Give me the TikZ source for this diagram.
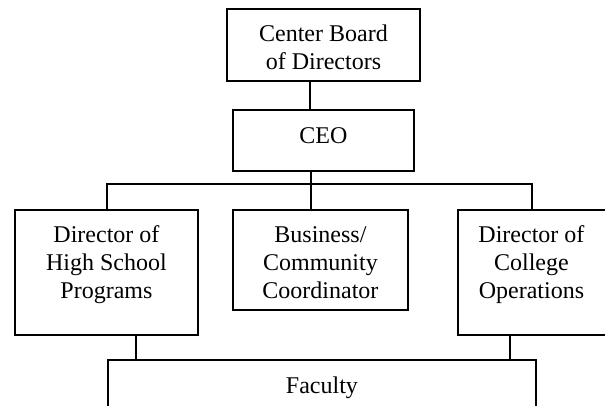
\documentclass[tikz,border=0pt]{standalone}
\usepackage{fontspec}
\setmainfont{Liberation Serif}
% fixes the height of a box's first text line
\newcommand\firststrut{\rule{0pt}{24pt}}
\begin{document}
\begin{tikzpicture}[x=1pt,y=-1pt,
  orgbox/.style={draw, line width=1.9pt, rectangle, inner sep=0pt, anchor=north west},
  orgtext/.style={anchor=north, align=center, inner sep=0pt,
    font=\fontsize{24}{28}\selectfont},
  link/.style={line width=1.9pt}]
  \useasboundingbox (0,0) rectangle (605,406);
  \clip (0,0) rectangle (605,406);

  % boxes
  \node[orgbox, minimum width=193pt, minimum height=72pt]  (board) at (226,8)   {};
  \node[orgbox, minimum width=181pt, minimum height=61pt]  (ceo)   at (232,109) {};
  \node[orgbox, minimum width=183pt, minimum height=125pt] (hs)    at (14,209)  {};
  \node[orgbox, minimum width=175pt, minimum height=100pt] (biz)   at (232,209) {};
  \node[orgbox, minimum width=149pt, minimum height=125pt] (col)   at (457,209) {};
  \node[orgbox, minimum width=428pt, minimum height=52pt]  (fac)   at (107,359) {};

  % box texts, first baseline about 33 below the top edge
  \node[orgtext] (board-t) at ([yshift=-9pt]board.north) {\firststrut Center Board\\of Directors};
  \node[orgtext] (ceo-t)   at ([yshift=-10pt]ceo.north)  {\firststrut CEO};
  \node[orgtext] (hs-t)    at ([yshift=-9pt]hs.north)    {\firststrut Director of\\High School\\Programs};
  \node[orgtext] (biz-t)   at ([yshift=-9pt]biz.north)   {\firststrut Business/\\Community\\Coordinator};
  \node[orgtext] (col-t)   at ([xshift=-1pt,yshift=-9pt]col.north) {\firststrut Director of\\College\\Operations};
  \node[orgtext] (fac-t)   at ([yshift=-10pt]fac.north)  {\firststrut Faculty};

  % connector positions
  \coordinate (top)  at (310,0);
  \coordinate (busL) at (107,184);
  \coordinate (busM) at (311,184);
  \coordinate (busR) at (532,184);
  \coordinate (fL)   at (136,0);
  \coordinate (fR)   at (510,0);

  \draw[link] (board.south -| top) -- (ceo.north -| top);
  \draw[link] (ceo.south -| busM) -- (biz.north -| busM);
  \draw[link] (hs.north -| busL) -- (busL) -- (busR) -- (col.north -| busR);
  \draw[link] (hs.south -| fL) -- (fac.north -| fL);
  \draw[link] (col.south -| fR) -- (fac.north -| fR);
\end{tikzpicture}
\end{document}
